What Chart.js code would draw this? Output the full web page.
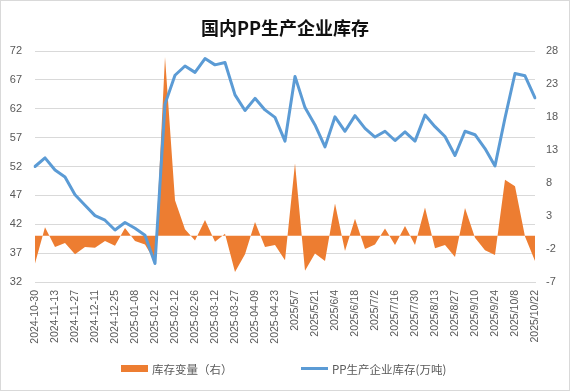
<!DOCTYPE html>
<html>
<head>
<meta charset="utf-8">
<script src="https://cdn.jsdelivr.net/npm/chart.js@4/dist/chart.umd.min.js"></script>
<style>
  html, body { margin: 0; padding: 0; background: #fff; }
  #wrap { position: relative; width: 570px; height: 391px; overflow: hidden; }
  #frame { position: absolute; left: 0; top: 0; width: 568px; height: 389px; border: 1px solid #d9d9d9; pointer-events: none; }
  canvas { position: absolute; left: 0; top: 0; }
  .lg { position: absolute; font-family: "Noto Sans CJK SC", "Noto Sans", sans-serif; font-size: 11.5px; color: #595959; line-height: 14px; white-space: nowrap; }
  .sw { position: absolute; }
</style>
</head>
<body>
<div id="wrap">
  <canvas id="c" width="570" height="391"></canvas>
  <div class="sw" style="left:121px;top:365px;width:27px;height:7px;background:#ED7D31;"></div>
  <div class="lg" style="left:152px;top:362px;">库存变量（右）</div>
  <div class="sw" style="left:301px;top:367px;width:27px;height:3px;background:#5B9BD5;"></div>
  <div class="lg" style="left:332px;top:362px;">PP生产企业库存(万吨)</div>
  <div id="frame"></div>
</div>
<script>
const titleText = "国内PP生产企业库存";
const categories = [
  "2024-10-30","2024-11-06","2024-11-13","2024-11-20","2024-11-27","2024-12-04","2024-12-11","2024-12-18",
  "2024-12-25","2025-01-02","2025-01-08","2025-01-15","2025-01-22","2025-02-05","2025-02-12","2025-02-19",
  "2025-02-26","2025-03-05","2025-03-12","2025-03-19","2025-03-27","2025-04-02","2025-04-09","2025-04-16",
  "2025-04-23","2025-04-30","2025/5/7","2025/5/14","2025/5/21","2025/5/28","2025/6/4","2025/6/11",
  "2025/6/18","2025/6/25","2025/7/2","2025/7/9","2025/7/16","2025/7/23","2025/7/30","2025/8/6",
  "2025/8/13","2025/8/20","2025/8/27","2025/9/3","2025/9/10","2025/9/17","2025/9/24","2025/10/1",
  "2025/10/8","2025/10/15","2025/10/22"
];
const inventory = [
  52.0, 53.5, 51.4, 50.2, 47.1, 45.3, 43.5, 42.7, 41.0, 42.3,
  41.3, 40.1, 35.2, 62.8, 67.8, 69.4, 68.3, 70.7, 69.6, 70.0,
  64.4, 61.7, 63.8, 61.8, 60.5, 56.4, 67.6, 62.2, 59.2, 55.4,
  60.6, 58.1, 60.8, 58.6, 57.1, 58.1, 56.5, 58.0, 56.4, 60.9,
  58.9, 57.2, 53.9, 58.1, 57.5, 55.1, 52.1, 60.4, 68.1, 67.7, 63.9
];
const change = [
  -4.2, 1.3, -1.7, -1.1, -2.8, -1.7, -1.8, -0.8, -1.5, 1.2,
  -0.8, -1.3, -3.9, 27.1, 5.4, 1.0, -0.7, 2.4, -0.9, 0.3,
  -5.5, -2.8, 2.1, -1.7, -1.4, -3.7, 11.0, -5.3, -2.7, -3.8,
  4.9, -2.3, 2.6, -2.0, -1.3, 1.1, -1.4, 1.5, -1.4, 4.3,
  -1.9, -1.4, -3.2, 4.2, -0.3, -2.2, -2.9, 8.5, 7.5, -0.1, -3.8
];
const leftTicks = { min: 32, max: 72, step: 5 };
const rightTicks = { min: -7, max: 28, step: 5 };
const seriesNames = ["PP生产企业库存(万吨)", "库存变量（右）"];

const tickFont = { family: "'Liberation Sans', 'Noto Sans', sans-serif", size: 11 };
new Chart(document.getElementById('c'), {
  type: 'line',
  data: {
    labels: categories,
    datasets: [
      {
        label: seriesNames[0], data: inventory, yAxisID: 'y',
        borderColor: '#5B9BD5', borderWidth: 3, pointRadius: 0, tension: 0,
        fill: false, borderJoinStyle: 'round', borderCapStyle: 'round'
      },
      {
        label: seriesNames[1], data: change, yAxisID: 'y1',
        borderWidth: 0, borderColor: 'rgba(0,0,0,0)', backgroundColor: '#ED7D31',
        pointRadius: 0, tension: 0, fill: 'origin'
      }
    ]
  },
  options: {
    responsive: false, animation: false, devicePixelRatio: 1,
    layout: { padding: { left: 0, right: 0, top: 0, bottom: 39 } },
    plugins: {
      legend: { display: false },
      tooltip: { enabled: false },
      title: {
        display: true, text: titleText, color: '#111',
        font: { family: "'Noto Sans CJK SC', sans-serif", size: 18, weight: 'bold', lineHeight: 1.2 },
        padding: { top: 17, bottom: 12.4 }
      }
    },
    scales: {
      x: {
        offset: false,
        grid: { display: false, drawTicks: false },
        border: { display: true, color: '#d9d9d9' },
        ticks: {
          autoSkip: false, minRotation: 90, maxRotation: 90, padding: 8,
          color: '#595959', font: { family: "'Liberation Sans', 'Noto Sans', sans-serif", size: 10.5 },
          callback: function(v, i) { return i % 2 === 0 ? categories[i] : ''; }
        },
        afterFit: function(s) { s.height = 70; }
      },
      y: {
        position: 'left', min: leftTicks.min, max: leftTicks.max,
        grid: { color: '#d9d9d9', drawTicks: false, lineWidth: 1 },
        border: { display: false },
        ticks: { stepSize: leftTicks.step, padding: 13, color: '#595959', font: tickFont },
        afterFit: function(s) { s.width = 35; }
      },
      y1: {
        position: 'right', min: rightTicks.min, max: rightTicks.max,
        grid: { display: false, drawTicks: false },
        border: { display: false },
        ticks: { stepSize: rightTicks.step, padding: 11, color: '#595959', font: tickFont },
        afterFit: function(s) { s.width = 35; }
      }
    }
  }
});
</script>
</body>
</html>
